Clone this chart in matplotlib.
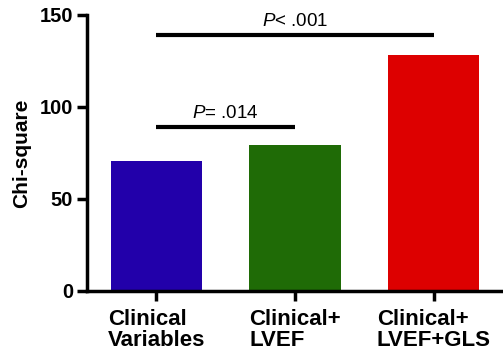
import matplotlib
matplotlib.use('Agg')
import matplotlib.pyplot as plt

# data
categories = ['Clinical\nVariables', 'Clinical+\nLVEF', 'Clinical+\nLVEF+GLS']
chi_square = [70.6, 79.3, 128.3]
bar_colors = ['#2200aa', '#1f6b06', '#dd0000']

# significance brackets: (start bar, end bar, height, label)
sig_pairs = [(0, 1, 89, r'$\it{P}$= .014'), (0, 2, 139, r'$\it{P}$< .001')]

plt.rcParams['font.family'] = ['Liberation Sans', 'DejaVu Sans']
plt.rcParams['mathtext.fontset'] = 'custom'
plt.rcParams['mathtext.it'] = 'Liberation Sans:italic'

fig = plt.figure(figsize=(5.03, 3.57), dpi=100)
ax = fig.add_axes([0.173, 0.185, 0.827, 0.773])

x = range(len(categories))
ax.bar(x, chi_square, width=0.66, color=bar_colors)

for a, b, h, label in sig_pairs:
    ax.plot([a, b], [h, h], color='black', lw=3, solid_capstyle='butt', clip_on=False)
    ax.text((a + b) / 2, h + 3, label, ha='center', va='bottom', fontsize=13.5)

ax.set_xlim(-0.5, 2.5)
ax.set_ylim(0, 150)
ax.set_yticks([0, 50, 100, 150])
ax.set_xticks(list(x))
ax.set_xticklabels(categories, fontsize=16, fontweight='bold', multialignment='left',
                   linespacing=1.0)
for lbl in ax.get_yticklabels():
    lbl.set_fontweight('bold')
    lbl.set_fontsize(14.5)
ax.set_ylabel('Chi-square', fontsize=15, fontweight='bold', labelpad=6)

for side in ['top', 'right']:
    ax.spines[side].set_visible(False)
for side in ['left', 'bottom']:
    ax.spines[side].set_linewidth(2.5)
ax.tick_params(width=2.5, length=7, pad=3)
ax.tick_params(axis='x', pad=6)

fig.savefig('out.png', dpi=100)
